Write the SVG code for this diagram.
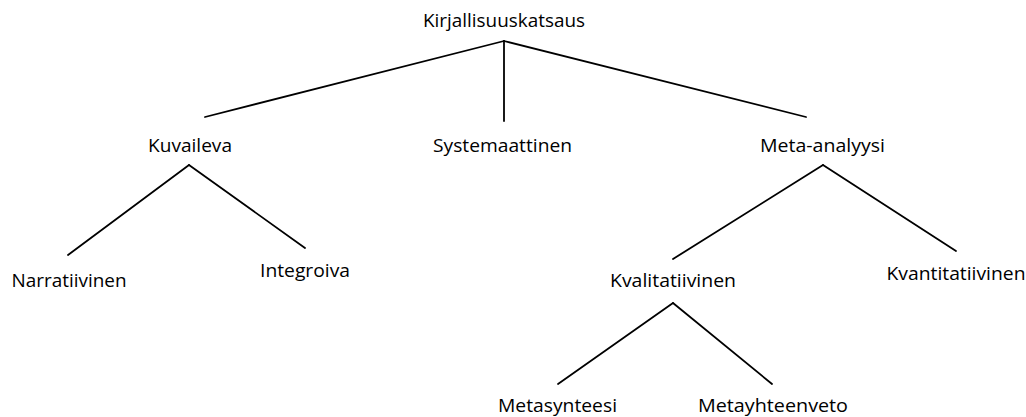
<svg xmlns="http://www.w3.org/2000/svg" width="1026" height="417" viewBox="0 0 1026 417">
<style>
text{font-family:"Open Sans","Liberation Sans",sans-serif;font-size:19px;fill:#000;text-anchor:middle}
.c line{stroke:#000;stroke-width:1.8;stroke-linecap:round}
</style>
<rect width="1026" height="417" fill="#fff"/>
<g class="c" id="connectors">
<line x1="504" y1="41" x2="205" y2="117"/>
<line x1="504" y1="41" x2="504" y2="121"/>
<line x1="504" y1="41" x2="806" y2="117"/>
<line x1="189" y1="165" x2="68" y2="255"/>
<line x1="189" y1="165" x2="305" y2="248"/>
<line x1="823" y1="165" x2="673" y2="259"/>
<line x1="823" y1="165" x2="956" y2="251"/>
<line x1="673" y1="303" x2="558" y2="384"/>
<line x1="673" y1="303" x2="772" y2="384"/>
</g>
<g id="n-root"><text x="504" y="27" textLength="162" lengthAdjust="spacingAndGlyphs">Kirjallisuuskatsaus</text></g>
<g id="n-kuvaileva"><text x="190" y="152" textLength="84" lengthAdjust="spacingAndGlyphs">Kuvaileva</text></g>
<g id="n-systemaattinen"><text x="502.5" y="152" textLength="139" lengthAdjust="spacingAndGlyphs">Systemaattinen</text></g>
<g id="n-meta"><text x="822.5" y="152" textLength="125" lengthAdjust="spacingAndGlyphs">Meta-analyysi</text></g>
<g id="n-narratiivinen"><text x="69" y="287" textLength="115" lengthAdjust="spacingAndGlyphs">Narratiivinen</text></g>
<g id="n-integroiva"><text x="305" y="277" textLength="90" lengthAdjust="spacingAndGlyphs">Integroiva</text></g>
<g id="n-kvalitatiivinen"><text x="673" y="287" textLength="126" lengthAdjust="spacingAndGlyphs">Kvalitatiivinen</text></g>
<g id="n-kvantitatiivinen"><text x="956" y="280" textLength="139" lengthAdjust="spacingAndGlyphs">Kvantitatiivinen</text></g>
<g id="n-metasynteesi"><text x="557.5" y="412" textLength="119" lengthAdjust="spacingAndGlyphs">Metasynteesi</text></g>
<g id="n-metayhteenveto"><text x="773" y="412" textLength="150" lengthAdjust="spacingAndGlyphs">Metayhteenveto</text></g>
</svg>
